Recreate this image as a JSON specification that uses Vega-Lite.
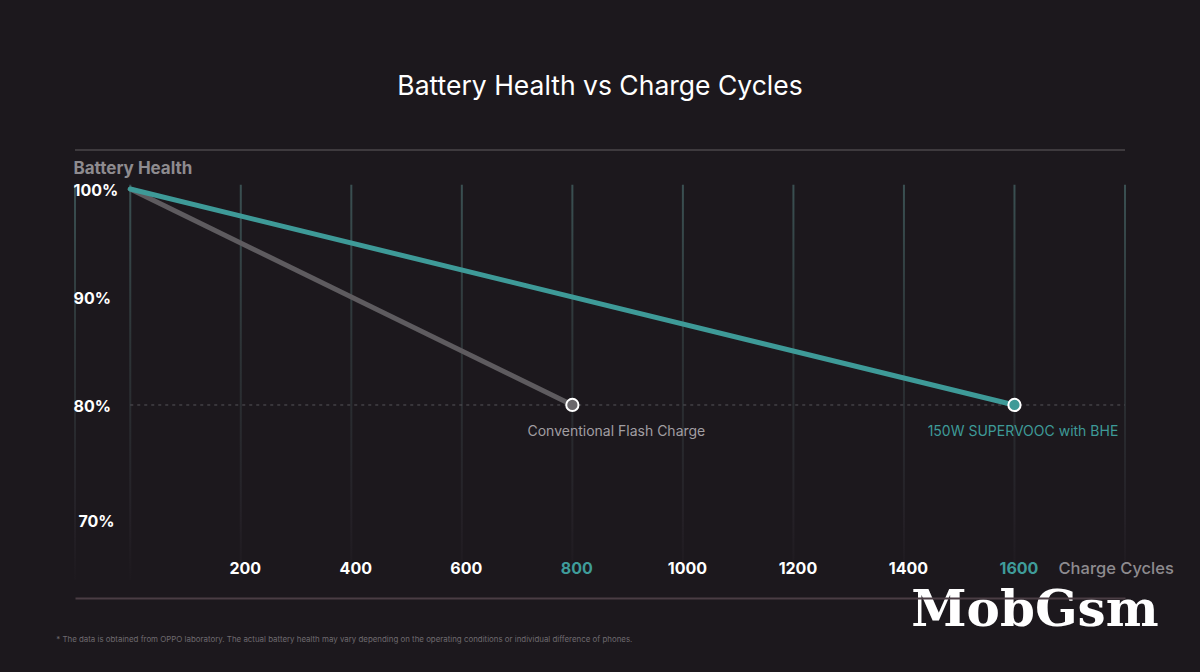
{
  "$schema": "https://vega.github.io/schema/vega-lite/v6.json",
  "width": 1050,
  "height": 448,
  "autosize": {"type": "none"},
  "padding": {"left": 75, "top": 150, "right": 75, "bottom": 74},
  "background": "#1c181d",
  "config": {"view": {"stroke": null}, "font": "Inter"},
  "title": {"text": "Battery Health vs Charge Cycles", "color": "#ffffff", "fontSize": 26.5, "fontWeight": 400, "font": "Inter", "anchor": "middle", "offset": 49},
  "datasets": {
    "series": [
      {"series": "Conventional Flash Charge", "cycles": 0, "health": 100},
      {"series": "Conventional Flash Charge", "cycles": 800, "health": 80},
      {"series": "150W SUPERVOOC with BHE", "cycles": 0, "health": 100},
      {"series": "150W SUPERVOOC with BHE", "cycles": 1600, "health": 80}
    ],
    "grid": [
      {"cycles": -100}, {"cycles": 0}, {"cycles": 200}, {"cycles": 400}, {"cycles": 600},
      {"cycles": 800}, {"cycles": 1000}, {"cycles": 1200}, {"cycles": 1400}, {"cycles": 1600}, {"cycles": 1800}
    ],
    "one": [{"k": 1}]
  },
  "layer": [
    {
      "data": {"name": "grid"},
      "mark": {"type": "bar", "size": 2, "fill": {"gradient": "linear", "x1": 0, "y1": 0, "x2": 0, "y2": 1, "stops": [{"offset": 0, "color": "#3a5052"}, {"offset": 0.4, "color": "#2d3437"}, {"offset": 0.85, "color": "#242026"}, {"offset": 1, "color": "#1d191e"}]}},
      "encoding": {
        "x": {
          "field": "cycles", "type": "quantitative",
          "scale": {"domain": [-100, 1800], "nice": false, "zero": false, "padding": 0},
          "axis": {
            "orient": "bottom", "zindex": 2,
            "values": [200, 400, 600, 800, 1000, 1200, 1400, 1600],
            "format": "d",
            "domain": true, "domainColor": "#4a3d44", "domainWidth": 2,
            "ticks": false, "grid": false,
            "labelPadding": -30, "labelBaseline": "middle", "labelOffset": 4,
            "labelFont": "Inter", "labelFontSize": 16, "labelFontWeight": "bold",
            "labelColor": {"condition": {"test": "datum.value == 800 || datum.value == 1600", "value": "#3f9c9a"}, "value": "#ffffff"},
            "labelFlush": false, "labelOverlap": false,
            "title": "Charge Cycles", "titleColor": "#8e8b8f", "titleFont": "Inter", "titleFontSize": 16.5, "titleFontWeight": 500,
            "titleAlign": "left", "titleBaseline": "middle", "titleX": 983, "titleY": -30
          }
        },
        "y": {
          "datum": 100.4, "type": "quantitative",
          "scale": {"domain": [62.13, 103.61], "nice": false, "zero": false, "padding": 0},
          "axis": {
            "orient": "left", "zindex": 2,
            "values": [70, 80, 90, 100],
            "domain": false, "ticks": false, "grid": false,
            "labelExpr": "datum.value + '%'",
            "labelAlign": "left", "labelBaseline": "middle",
            "labelPadding": {"condition": {"test": "datum.value == 70", "value": -3}, "value": 2},
            "labelOffset": {"condition": {"test": "datum.value == 70", "value": 8}, "value": 2},
            "labelColor": "#ffffff", "labelFont": "Inter", "labelFontSize": 16, "labelFontWeight": "bold",
            "title": "Battery Health", "titleAngle": 0, "titleAlign": "left", "titleBaseline": "middle",
            "titleX": -2, "titleY": 18, "titleColor": "#8e8b8f", "titleFont": "Inter", "titleFontSize": 17, "titleFontWeight": "bold"
          }
        },
        "y2": {"datum": 63.8}
      }
    },
    {
      "data": {"name": "one"},
      "mark": {"type": "rule", "color": "#4a464a", "strokeWidth": 1.5},
      "encoding": {"x": {"datum": -100, "type": "quantitative"}, "x2": {"datum": 1800}, "y": {"datum": 103.6, "type": "quantitative"}}
    },
    {
      "data": {"name": "one"},
      "mark": {"type": "rule", "color": "#56545a", "strokeWidth": 1, "strokeDash": [3, 4]},
      "encoding": {"x": {"datum": 0, "type": "quantitative"}, "x2": {"datum": 1800}, "y": {"datum": 80, "type": "quantitative"}}
    },
    {
      "data": {"name": "series"},
      "mark": {"type": "line", "strokeWidth": 5, "strokeCap": "round"},
      "encoding": {
        "x": {"field": "cycles", "type": "quantitative"},
        "y": {"field": "health", "type": "quantitative"},
        "color": {"field": "series", "type": "nominal", "scale": {"domain": ["Conventional Flash Charge", "150W SUPERVOOC with BHE"], "range": ["#5e5b5f", "#3e9a98"]}, "legend": null}
      }
    },
    {
      "data": {"name": "series"},
      "transform": [{"filter": "datum.cycles > 0"}],
      "mark": {"type": "point", "filled": true, "size": 150, "stroke": "#ffffff", "strokeWidth": 2, "opacity": 1},
      "encoding": {
        "x": {"field": "cycles", "type": "quantitative"},
        "y": {"field": "health", "type": "quantitative"},
        "fill": {"field": "series", "type": "nominal", "scale": {"domain": ["Conventional Flash Charge", "150W SUPERVOOC with BHE"], "range": ["#6a676b", "#3e9a98"]}, "legend": null}
      }
    },
    {
      "data": {"name": "series"},
      "transform": [{"filter": "datum.cycles == 800"}],
      "mark": {"type": "text", "align": "center", "baseline": "middle", "dx": 44, "dy": 27, "fontSize": 14, "font": "Inter", "color": "#a19ea2"},
      "encoding": {
        "x": {"field": "cycles", "type": "quantitative"},
        "y": {"field": "health", "type": "quantitative"},
        "text": {"field": "series"}
      }
    },
    {
      "data": {"name": "series"},
      "transform": [{"filter": "datum.cycles == 1600"}],
      "mark": {"type": "text", "align": "center", "baseline": "middle", "dx": 8.5, "dy": 27, "fontSize": 14, "font": "Inter", "color": "#3e9a98"},
      "encoding": {
        "x": {"field": "cycles", "type": "quantitative"},
        "y": {"field": "health", "type": "quantitative"},
        "text": {"field": "series"}
      }
    },
    {
      "data": {"name": "one"},
      "mark": {"type": "text", "align": "left", "baseline": "middle", "fontSize": 7.9, "font": "Inter", "color": "#6e6a6f"},
      "encoding": {
        "x": {"datum": -134, "type": "quantitative"},
        "y": {"datum": 58.24, "type": "quantitative"},
        "text": {"value": "* The data is obtained from OPPO laboratory. The actual battery health may vary depending on the operating conditions or individual difference of phones."}
      }
    },
    {
      "data": {"name": "one"},
      "mark": {"type": "text", "align": "center", "baseline": "alphabetic", "fontSize": 50, "fontWeight": "bold", "font": "DejaVu Serif", "color": "#ffffff"},
      "encoding": {
        "x": {"datum": 1637, "type": "quantitative"},
        "y": {"datum": 59.54, "type": "quantitative"},
        "text": {"value": "MobGsm"}
      }
    }
  ]
}
